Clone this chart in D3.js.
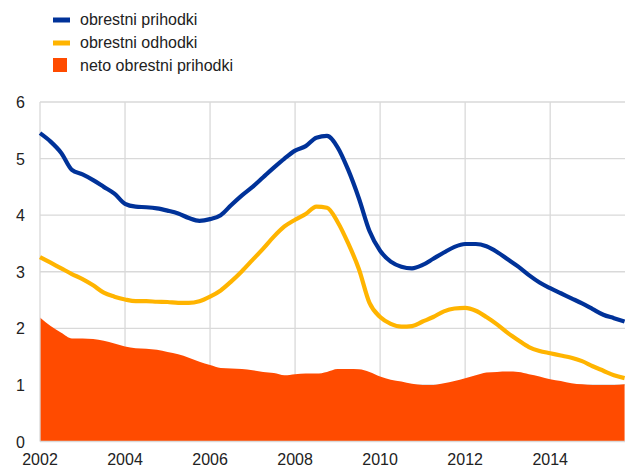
<!DOCTYPE html>
<html><head><meta charset="utf-8">
<script src="https://cdn.jsdelivr.net/npm/d3@7"></script>
<style>body{margin:0;background:#fff}svg{display:block}text{font-family:"Liberation Sans",Arial,sans-serif}</style>
</head><body><svg id="c" width="625" height="468"></svg>
<script>
const startYear = 2002;
const seriesNames = ["obrestni prihodki","obrestni odhodki","neto obrestni prihodki"];
const xTicks = [2002,2004,2006,2008,2010,2012,2014];
const yTicks = [0,1,2,3,4,5,6];
const income = [5.45,5.3,5.1,4.8,4.72,4.62,4.5,4.38,4.2,4.15,4.14,4.12,4.08,4.03,3.95,3.9,3.93,4.0,4.18,4.35,4.5,4.67,4.84,5.0,5.14,5.22,5.37,5.4,5.2,4.8,4.3,3.72,3.37,3.18,3.09,3.06,3.12,3.23,3.34,3.44,3.49,3.49,3.45,3.35,3.22,3.09,2.94,2.81,2.71,2.62,2.53,2.44,2.34,2.24,2.18,2.12];
const expense = [3.26,3.16,3.06,2.96,2.87,2.76,2.63,2.56,2.51,2.48,2.48,2.47,2.465,2.45,2.45,2.48,2.56,2.67,2.83,3.01,3.21,3.41,3.62,3.8,3.92,4.02,4.15,4.13,3.88,3.5,3.05,2.45,2.2,2.08,2.03,2.04,2.12,2.2,2.3,2.35,2.36,2.31,2.2,2.07,1.92,1.79,1.67,1.6,1.56,1.52,1.48,1.42,1.33,1.25,1.17,1.12];
const net = [2.19,2.04,1.92,1.82,1.82,1.81,1.78,1.73,1.68,1.65,1.64,1.62,1.58,1.54,1.48,1.41,1.35,1.3,1.29,1.28,1.26,1.23,1.21,1.17,1.19,1.2,1.2,1.23,1.28,1.28,1.275,1.23,1.15,1.09,1.06,1.02,1.0,1.0,1.03,1.07,1.12,1.17,1.22,1.23,1.235,1.23,1.19,1.15,1.1,1.07,1.03,1.01,1.0,1.0,1.0,1.01];
const colors = ["#003299","#FFB400","#FF4B00"];

const svg = d3.select("#c");
const m = {l:40, r:0, t:102, b:26.5};
const W = 625, H = 468;
const t = i => startYear + i/4;
const x = d3.scaleLinear().domain([2002, 2015.76]).range([m.l, W - m.r]);
const y = d3.scaleLinear().domain([0,6]).range([H - m.b, m.t]);

// grid
const g = svg.append("g");
g.selectAll(".hg").data(yTicks.filter(d=>d>0)).join("line")
  .attr("x1", m.l).attr("x2", W).attr("y1", d=>y(d)).attr("y2", d=>y(d))
  .attr("stroke","#d9d9d9").attr("stroke-width",1.3);
g.selectAll(".vg").data(xTicks.filter(d=>d>2002)).join("line")
  .attr("y1", y(0)).attr("y2", y(6)).attr("x1", d=>x(d)).attr("x2", d=>x(d))
  .attr("stroke","#d9d9d9").attr("stroke-width",1.3);

// area
const area = d3.area().x((d,i)=>x(t(i))).y0(y(0)).y1(d=>y(d)).curve(d3.curveMonotoneX);
svg.append("path").datum(net).attr("d", area).attr("fill", colors[2]);

// axes lines
svg.append("line").attr("x1",m.l).attr("x2",m.l).attr("y1",y(0)).attr("y2",y(6)).attr("stroke","#d9d9d9").attr("stroke-width",1.3);
svg.append("line").attr("x1",m.l).attr("x2",W).attr("y1",y(0)).attr("y2",y(0)).attr("stroke","#d9d9d9").attr("stroke-width",1.3);

// lines
const line = d3.line().x((d,i)=>x(t(i))).y(d=>y(d)).curve(d3.curveMonotoneX);
[income, expense].forEach((s,k)=>{
  svg.append("path").datum(s).attr("d", line).attr("fill","none")
    .attr("stroke", colors[k]).attr("stroke-width",4.2).attr("stroke-linejoin","round");
});

// axis labels
svg.selectAll(".yl").data(yTicks).join("text")
  .attr("x", 25).attr("y", d=>y(d)+6).attr("text-anchor","end")
  .attr("font-size",16).attr("fill","#222").text(d=>d);
svg.selectAll(".xl").data(xTicks).join("text")
  .attr("x", d=>x(d)).attr("y", 465).attr("text-anchor","middle")
  .attr("font-size",16).attr("fill","#222").text(d=>d);

// legend
const lg = svg.append("g");
const rows = [25, 48, 71];
lg.append("rect").attr("x",53).attr("y",17.5).attr("width",17).attr("height",5).attr("fill",colors[0]);
lg.append("rect").attr("x",53).attr("y",40.5).attr("width",17).attr("height",5).attr("fill",colors[1]);
lg.append("rect").attr("x",53).attr("y",58).attr("width",14).attr("height",14).attr("fill",colors[2]);
lg.selectAll("text").data(seriesNames).join("text")
  .attr("x",80).attr("y",(d,i)=>rows[i]).attr("font-size",16).attr("fill","#222").text(d=>d);
</script></body></html>
